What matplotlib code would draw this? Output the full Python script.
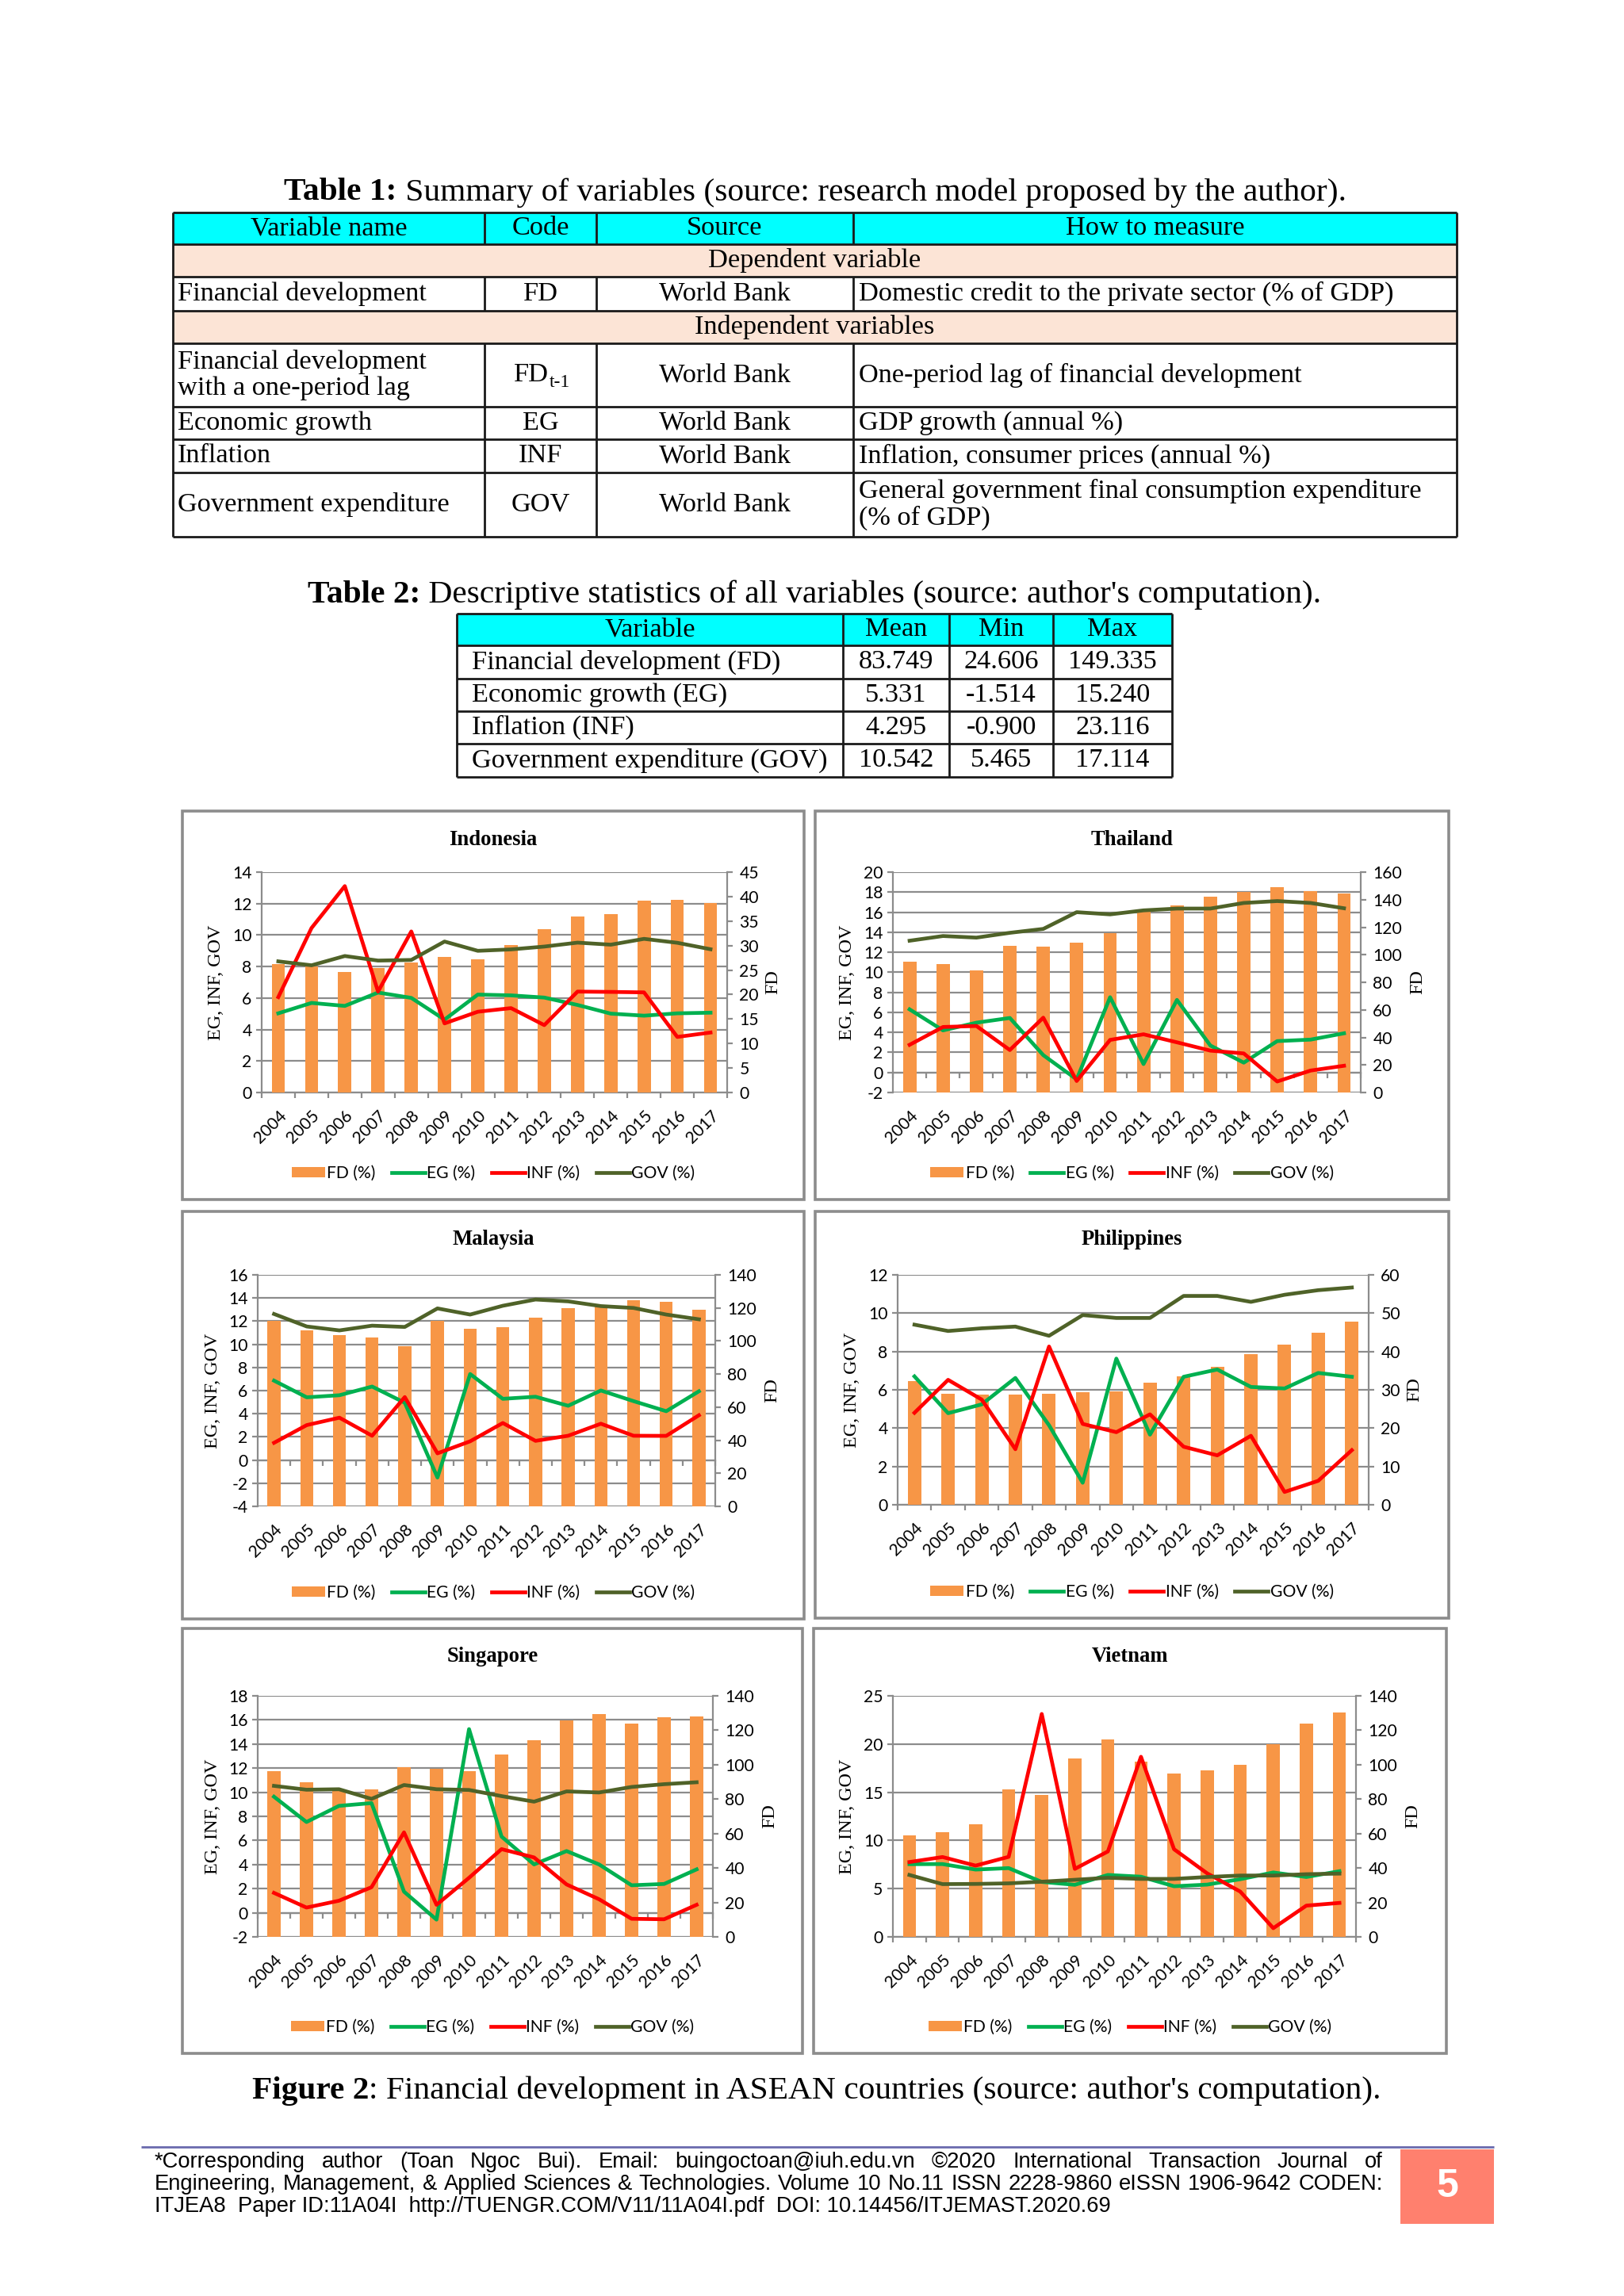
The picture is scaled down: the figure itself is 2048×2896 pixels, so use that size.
import numpy as np
import matplotlib
matplotlib.use("Agg")
import matplotlib.pyplot as plt
from matplotlib.patches import Rectangle

# ----------------- CONFIG -----------------
W, H, DPI = 2048, 2896, 200
SERIF = "Liberation Serif"
SANS = "Lato"
FOOT = "Liberation Sans"
C_FD, C_EG, C_INF, C_GOV = "#F79646", "#00B050", "#FF0000", "#4F6228"
GRID = "#8C8C8C"
CYAN, PEACH = "#00FFFF", "#FCE4D6"
TICK_SIZE = 7.6
LINE_W = 1.7
plt.rcParams["font.family"] = [SANS, "DejaVu Sans"]
# ------------------------------------------

# ---------- data ----------
YEARS = [str(y) for y in range(2004, 2018)]

IDN_FD = [26.3, 25.7, 24.6, 25.4, 26.5, 27.6, 27.2, 30.1, 33.4, 36.0, 36.4, 39.1, 39.4, 38.7]
IDN_EG = [5.03, 5.69, 5.50, 6.35, 6.01, 4.63, 6.22, 6.17, 6.03, 5.56, 5.01, 4.88, 5.03, 5.07]
IDN_INF = [6.06, 10.45, 13.11, 6.41, 10.23, 4.39, 5.13, 5.36, 4.28, 6.41, 6.39, 6.36, 3.53, 3.81]
IDN_GOV = [8.33, 8.08, 8.67, 8.38, 8.42, 9.59, 9.00, 9.09, 9.27, 9.52, 9.39, 9.76, 9.51, 9.10]

THA_FD = [94.8, 93.5, 88.7, 106.3, 105.7, 108.6, 115.9, 131.0, 136.0, 142.1, 145.4, 149.3, 146.2, 144.3]
THA_EG = [6.30, 4.20, 4.97, 5.44, 1.73, -0.69, 7.51, 0.84, 7.24, 2.69, 0.98, 3.13, 3.28, 3.91]
THA_INF = [2.76, 4.54, 4.64, 2.24, 5.47, -0.85, 3.25, 3.81, 3.01, 2.18, 1.90, -0.90, 0.19, 0.67]
THA_GOV = [13.15, 13.62, 13.46, 13.94, 14.33, 16.00, 15.78, 16.18, 16.36, 16.36, 16.92, 17.11, 16.92, 16.39]

MYS_FD = [112.0, 106.4, 103.5, 101.9, 96.8, 112.0, 107.2, 108.3, 114.1, 120.0, 121.1, 124.8, 123.7, 118.9]
MYS_EG = [6.86, 5.42, 5.60, 6.35, 4.95, -1.51, 7.43, 5.29, 5.47, 4.69, 6.01, 5.09, 4.22, 5.94]
MYS_INF = [1.49, 3.02, 3.66, 2.10, 5.44, 0.58, 1.62, 3.20, 1.66, 2.10, 3.14, 2.10, 2.09, 3.87]
MYS_GOV = [12.62, 11.54, 11.20, 11.61, 11.50, 13.10, 12.57, 13.33, 13.87, 13.71, 13.30, 13.14, 12.57, 12.16]

PHL_FD = [32.3, 29.0, 28.7, 28.7, 29.0, 29.4, 29.6, 31.9, 33.6, 36.0, 39.3, 41.8, 44.9, 47.7]
PHL_EG = [6.70, 4.78, 5.24, 6.62, 4.15, 1.15, 7.63, 3.66, 6.68, 7.06, 6.15, 6.07, 6.88, 6.68]
PHL_INF = [4.80, 6.52, 5.49, 2.90, 8.26, 4.22, 3.79, 4.72, 3.03, 2.58, 3.60, 0.67, 1.25, 2.85]
PHL_GOV = [9.40, 9.07, 9.21, 9.30, 8.82, 9.90, 9.75, 9.75, 10.90, 10.90, 10.59, 10.96, 11.20, 11.34]

SGP_FD = [96.3, 89.8, 85.8, 85.8, 98.4, 97.6, 96.3, 106.0, 114.4, 125.7, 129.4, 123.8, 127.5, 128.2]
SGP_EG = [9.63, 7.53, 8.87, 9.10, 1.75, -0.57, 15.24, 6.32, 4.01, 5.12, 4.01, 2.28, 2.39, 3.60]
SGP_INF = [1.65, 0.43, 1.00, 2.12, 6.67, 0.66, 2.90, 5.28, 4.59, 2.35, 1.12, -0.50, -0.54, 0.66]
SGP_GOV = [10.53, 10.21, 10.25, 9.45, 10.60, 10.25, 10.19, 9.68, 9.22, 10.07, 9.98, 10.44, 10.67, 10.83]

VNM_FD = [59.1, 60.7, 65.5, 85.7, 82.5, 103.6, 114.6, 101.9, 94.7, 96.8, 100.0, 112.0, 123.8, 130.3]
VNM_EG = [7.54, 7.55, 6.98, 7.13, 5.70, 5.40, 6.42, 6.24, 5.25, 5.42, 5.98, 6.68, 6.21, 6.81]
VNM_INF = [7.76, 8.28, 7.39, 8.30, 23.12, 7.05, 8.86, 18.68, 9.09, 6.59, 4.70, 0.90, 3.24, 3.52]
VNM_GOV = [6.42, 5.47, 5.49, 5.55, 5.72, 5.92, 6.13, 6.01, 6.01, 6.21, 6.36, 6.36, 6.50, 6.56]

LEGEND_LABELS = ["FD (%)", "EG (%)", "INF (%)", "GOV (%)"]

T1_HEADER = ["Variable name", "Code", "Source", "How to measure"]
T1_SECTIONS = ["Dependent variable", "Independent variables"]
T1_NAMES = ["Financial development", "Financial development\nwith a one-period lag",
            "Economic growth", "Inflation", "Government expenditure"]
T1_CODES = ["FD", "FD", "EG", "INF", "GOV"]
T1_SOURCES = ["World Bank"] * 5
T1_MEASURES = ["Domestic credit to the private sector (% of GDP)",
               "One-period lag of financial development",
               "GDP growth (annual %)",
               "Inflation, consumer prices (annual %)",
               "General government final consumption expenditure\n(% of GDP)"]

T2_HEADER = ["Variable", "Mean", "Min", "Max"]
T2_VARS = ["Financial development (FD)", "Economic growth (EG)", "Inflation (INF)",
           "Government expenditure (GOV)"]
T2_MEAN = ["83.749", "5.331", "4.295", "10.542"]
T2_MIN = ["24.606", "-1.514", "-0.900", "5.465"]
T2_MAX = ["149.335", "15.240", "23.116", "17.114"]

FOOT_LINES = [
    "*Corresponding author (Toan Ngoc Bui). Email: buingoctoan@iuh.edu.vn  \u00a92020 International Transaction Journal of",
    "Engineering, Management, & Applied Sciences & Technologies. Volume 10 No.11 ISSN 2228-9860  eISSN 1906-9642  CODEN:",
    "ITJEA8  Paper ID:11A04I  http://TUENGR.COM/V11/11A04I.pdf  DOI: 10.14456/ITJEMAST.2020.69",
]

# ---------- page canvas (pixel coords, y down) ----------
fig = plt.figure(figsize=(W / DPI, H / DPI), dpi=DPI)
bg = fig.add_axes([0, 0, 1, 1])
bg.set_xlim(0, W)
bg.set_ylim(H, 0)
bg.axis("off")
renderer = fig.canvas.get_renderer()


def width_of(t):
    return t.get_window_extent(renderer).width


def mixed_title(parts, xc, y, target_w, base=12.5):
    objs = [bg.text(0, y, s, family=SERIF, fontsize=base, fontweight=wt, ha="left", va="center")
            for s, wt in parts]
    total = sum(width_of(o) for o in objs)
    size = base * target_w / total
    for o in objs:
        o.set_fontsize(size)
    ws = [width_of(o) for o in objs]
    x = xc - sum(ws) / 2
    for o, w in zip(objs, ws):
        o.set_x(x)
        x += w


def cell(x, y, s, ha="center", size=12.4):
    bg.text(x, y, s, family=SERIF, fontsize=size, ha=ha, va="center", linespacing=1.12)


# ---------- Table 1 ----------
mixed_title([("Table 1:", "bold"), (" Summary of variables (source: research model proposed by the author).", "normal")],
            1028, 243, 1343)
X1 = [218, 611, 752, 1076, 1837]
Y1 = [268, 308, 349, 392, 433, 513, 554, 596, 677]
bg.add_patch(Rectangle((X1[0], Y1[0]), X1[-1] - X1[0], Y1[1] - Y1[0], color=CYAN, lw=0))
for r in (1, 3):
    bg.add_patch(Rectangle((X1[0], Y1[r]), X1[-1] - X1[0], Y1[r + 1] - Y1[r], color=PEACH, lw=0))
bg.hlines(Y1, X1[0], X1[-1], color="#1a1a1a", lw=1.0)
bg.vlines([X1[0], X1[-1]], Y1[0], Y1[-1], color="#1a1a1a", lw=1.0)
for x in X1[1:-1]:
    bg.vlines(x, Y1[0], Y1[1], color="#1a1a1a", lw=1.0)
    bg.vlines(x, Y1[2], Y1[3], color="#1a1a1a", lw=1.0)
    bg.vlines(x, Y1[4], Y1[-1], color="#1a1a1a", lw=1.0)

yc = (Y1[0] + Y1[1]) / 2
for i, s in enumerate(T1_HEADER):
    cell((X1[i] + X1[i + 1]) / 2, yc, s)
cell((X1[0] + X1[-1]) / 2, (Y1[1] + Y1[2]) / 2, T1_SECTIONS[0])
cell((X1[0] + X1[-1]) / 2, (Y1[3] + Y1[4]) / 2, T1_SECTIONS[1])
data_rows = [2, 4, 5, 6, 7]
for k, r in enumerate(data_rows):
    yc = (Y1[r] + Y1[r + 1]) / 2
    cell(X1[0] + 6, yc, T1_NAMES[k], ha="left")
    if k == 1:
        bg.text(692, yc, T1_CODES[k], family=SERIF, fontsize=12.4, ha="right", va="center")
        bg.text(693, yc + 9, "t-1", family=SERIF, fontsize=8.5, ha="left", va="center")
    else:
        cell((X1[1] + X1[2]) / 2, yc, T1_CODES[k])
    cell((X1[2] + X1[3]) / 2, yc, T1_SOURCES[k])
    cell(X1[3] + 7, yc, T1_MEASURES[k], ha="left")

# ---------- Table 2 ----------
mixed_title([("Table 2:", "bold"), (" Descriptive statistics of all variables (source: author's computation).", "normal")],
            1027, 750, 1280)
X2 = [576, 1063, 1197, 1328, 1478]
Y2 = [774, 814, 856, 897, 938, 980]
bg.add_patch(Rectangle((X2[0], Y2[0]), X2[-1] - X2[0], Y2[1] - Y2[0], color=CYAN, lw=0))
bg.hlines(Y2, X2[0], X2[-1], color="#1a1a1a", lw=1.0)
bg.vlines(X2, Y2[0], Y2[-1], color="#1a1a1a", lw=1.0)
for i, s in enumerate(T2_HEADER):
    cell((X2[i] + X2[i + 1]) / 2, (Y2[0] + Y2[1]) / 2, s)
for k in range(len(T2_VARS)):
    yc = (Y2[k + 1] + Y2[k + 2]) / 2
    cell(X2[0] + 19, yc, T2_VARS[k], ha="left")
    for j, col in enumerate([T2_MEAN, T2_MIN, T2_MAX]):
        cell((X2[j + 1] + X2[j + 2]) / 2, yc, col[k])


# ---------- chart panels ----------
def px_rect(x0, y0, x1, y1):
    return [x0 / W, 1 - y1 / H, (x1 - x0) / W, (y1 - y0) / H]


def draw_panel(title, box, plot, fd, eg, inf, gov, lt, rt):
    bx0, by0, bx1, by1 = box
    bg.add_patch(Rectangle((bx0, by0), bx1 - bx0, by1 - by0, fill=False, ec="#8C8C8C", lw=1.3))
    bg.text((bx0 + bx1) / 2, by0 + 36, title, family=SERIF, fontweight="bold",
            fontsize=9.6, ha="center", va="center")

    px0, py0, px1, py1 = plot
    lticks = np.arange(lt[0], lt[1] + lt[2] / 2, lt[2])
    rticks = np.arange(rt[0], rt[1] + rt[2] / 2, rt[2])
    x = np.arange(len(YEARS))
    bounds = np.arange(-0.5, len(YEARS), 1.0)

    ax = fig.add_axes(px_rect(*plot))
    axb = ax.twinx()
    axl = ax.twinx()

    # left axis + gridlines
    ax.set_xlim(-0.5, len(YEARS) - 0.5)
    ax.set_ylim(lt[0], lt[1])
    ax.set_yticks(lticks)
    ax.set_yticklabels([f"{v:g}" for v in lticks])
    ax.yaxis.grid(True, color=GRID, lw=0.8)
    ax.set_axisbelow(True)
    for s in ("top", "right"):
        ax.spines[s].set_visible(False)
    ax.spines["left"].set_color(GRID)
    ax.spines["left"].set_linewidth(0.8)
    ax.tick_params(axis="y", length=2.5, width=0.8, color=GRID, labelsize=TICK_SIZE, pad=2)
    ax.set_xticks(x)
    ax.set_xticklabels(YEARS, rotation=45, ha="right", va="top", rotation_mode="anchor")
    ax.tick_params(axis="x", which="major", length=0, labelsize=TICK_SIZE, pad=7)
    if lt[0] < 0:
        ax.spines["bottom"].set_visible(False)
        sec = ax.secondary_xaxis((0 - lt[0]) / (lt[1] - lt[0]))
        sec.set_xticks(bounds, labels=[""] * len(bounds))
        sec.tick_params(length=2.5, width=0.8, color=GRID, direction="out")
        sec.spines["bottom"].set_color(GRID)
        sec.spines["bottom"].set_linewidth(0.8)
    else:
        ax.spines["bottom"].set_color(GRID)
        ax.spines["bottom"].set_linewidth(0.8)
        ax.set_xticks(bounds, minor=True)
        ax.tick_params(axis="x", which="minor", length=2.5, width=0.8, color=GRID, direction="out")

    # right axis: FD bars
    bars = axb.bar(x, fd, width=0.4, color=C_FD, lw=0)
    axb.set_ylim(rt[0], rt[1])
    axb.set_yticks(rticks)
    axb.set_yticklabels([f"{v:g}" for v in rticks])
    for s in ("top", "left", "bottom"):
        axb.spines[s].set_visible(False)
    axb.spines["right"].set_color(GRID)
    axb.spines["right"].set_linewidth(0.8)
    axb.tick_params(axis="y", length=2.5, width=0.8, color=GRID, labelsize=TICK_SIZE, pad=3)

    # lines on left scale
    axl.set_ylim(lt[0], lt[1])
    axl.axis("off")
    l_eg, = axl.plot(x, eg, color=C_EG, lw=LINE_W)
    l_inf, = axl.plot(x, inf, color=C_INF, lw=LINE_W)
    l_gov, = axl.plot(x, gov, color=C_GOV, lw=LINE_W)

    # axis titles
    yc = (py0 + py1) / 2
    bg.text(px0 - 57, yc, "EG, INF, GOV", family=SERIF, fontsize=8.7, rotation=90,
            ha="center", va="center")
    off = 72 if rticks.max() >= 100 else 58
    bg.text(px1 + off, yc, "FD", family=SERIF, fontsize=8.7, rotation=90,
            ha="center", va="center")

    axl.legend([bars, l_eg, l_inf, l_gov], LEGEND_LABELS, loc="center",
               bbox_to_anchor=((bx0 + bx1) / 2 / W, 1 - (by1 - 33) / H),
               bbox_transform=fig.transFigure, ncol=4, frameon=False, fontsize=TICK_SIZE,
               handlelength=2.0, handleheight=0.6, handletextpad=0.12, columnspacing=0.95)


draw_panel("Indonesia", (230, 1023, 1014, 1513), (330, 1100, 917, 1378),
           IDN_FD, IDN_EG, IDN_INF, IDN_GOV, (0, 14, 2), (0, 45, 5))
draw_panel("Thailand", (1028, 1023, 1827, 1513), (1126, 1100, 1716, 1378),
           THA_FD, THA_EG, THA_INF, THA_GOV, (-2, 20, 2), (0, 160, 20))
draw_panel("Malaysia", (230, 1528, 1014, 2042), (325, 1608, 902, 1900),
           MYS_FD, MYS_EG, MYS_INF, MYS_GOV, (-4, 16, 2), (0, 140, 20))
draw_panel("Philippines", (1028, 1528, 1827, 2041), (1132, 1608, 1726, 1898),
           PHL_FD, PHL_EG, PHL_INF, PHL_GOV, (0, 12, 2), (0, 60, 10))
draw_panel("Singapore", (230, 2054, 1012, 2590), (325, 2139, 899, 2443),
           SGP_FD, SGP_EG, SGP_INF, SGP_GOV, (-2, 18, 2), (0, 140, 20))
draw_panel("Vietnam", (1026, 2054, 1824, 2590), (1126, 2139, 1710, 2443),
           VNM_FD, VNM_EG, VNM_INF, VNM_GOV, (0, 25, 5), (0, 140, 20))

# ---------- figure caption ----------
mixed_title([("Figure 2", "bold"), (": Financial development in ASEAN countries (source: author's computation).", "normal")],
            1030, 2637, 1428)

# ---------- footer ----------
bg.hlines(2708, 178, 1884, color="#6A6AAE", lw=1.0)
bg.add_patch(Rectangle((1766, 2711), 118, 94, color="#FF806E", lw=0))
bg.text(1825, 2758, "5", family=FOOT, fontsize=18, fontweight="bold", color="white",
        ha="center", va="center")

FOOT_Y = [2727, 2755, 2783]
t3 = bg.text(195, FOOT_Y[2], FOOT_LINES[2], family=FOOT, fontsize=8, ha="left", va="center")
fsize = 8 * 1206 / width_of(t3)
t3.set_fontsize(fsize)


def justify(line, x0, x1, y, size):
    words = [bg.text(0, y, w, family=FOOT, fontsize=size, ha="left", va="center")
             for w in line.split()]
    ws = [width_of(t) for t in words]
    gap = (x1 - x0 - sum(ws)) / (len(words) - 1)
    x = x0
    for t, w in zip(words, ws):
        t.set_x(x)
        x += w + gap


for k in range(2):
    justify(FOOT_LINES[k], 195, 1744, FOOT_Y[k], fsize)

fig.savefig("out.png", dpi=DPI)
